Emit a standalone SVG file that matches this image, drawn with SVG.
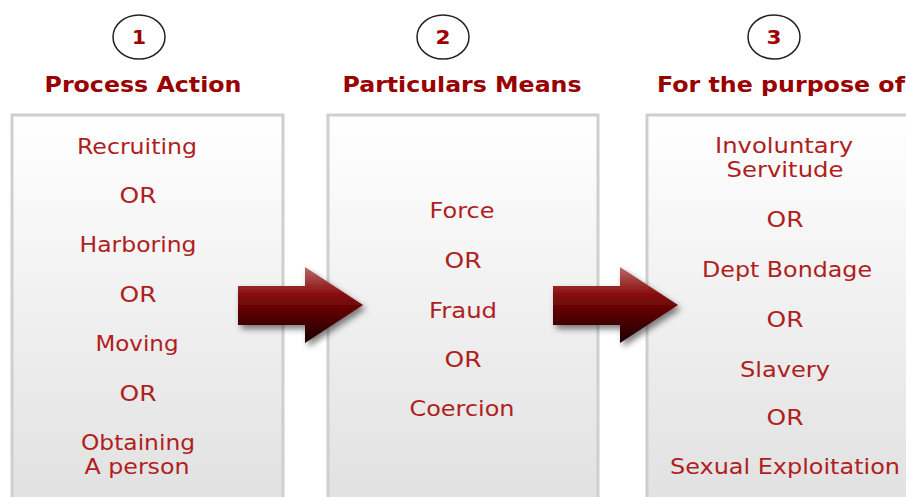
<svg xmlns="http://www.w3.org/2000/svg" width="906" height="497" viewBox="0 0 906 497">
<defs>
<linearGradient id="boxg" x1="0" y1="0" x2="0" y2="1">
<stop offset="0" stop-color="#ffffff"/>
<stop offset="1" stop-color="#e0e0e0"/>
</linearGradient>
<linearGradient id="arrg" x1="0" y1="0" x2="0" y2="1">
<stop offset="0" stop-color="#b86a6a"/>
<stop offset="0.35" stop-color="#8a1010"/>
<stop offset="0.6" stop-color="#5a0000"/>
<stop offset="1" stop-color="#1a0000"/>
</linearGradient>
<filter id="sh" x="-20%" y="-20%" width="150%" height="160%">
<feGaussianBlur in="SourceAlpha" stdDeviation="3"/>
<feOffset dx="3" dy="4" result="b"/>
<feComponentTransfer><feFuncA type="linear" slope="0.5"/></feComponentTransfer>
<feMerge><feMergeNode/><feMergeNode in="SourceGraphic"/></feMerge>
</filter>
</defs>
<style>
.box{fill:url(#boxg);stroke:#cfcfcf;stroke-width:3}
.num{fill:#fff;stroke:#222;stroke-width:1.5}
.nt{font-family:"DejaVu Sans",Verdana,sans-serif;font-weight:bold;font-size:20px;fill:#a00000;text-anchor:middle}
.hd{font-family:"DejaVu Sans",Verdana,sans-serif;font-weight:bold;font-size:20.5px;fill:#990000;text-anchor:middle}
.tx{font-family:"DejaVu Sans",Verdana,sans-serif;font-size:21px;fill:#b01e1e;text-anchor:middle}
.arr{fill:url(#arrg);filter:url(#sh)}
</style>
<rect width="906" height="497" fill="#ffffff"/>
<g id="col1">
<ellipse class="num" cx="139" cy="37" rx="26" ry="22"/>
<text class="nt" x="139" y="44" textLength="14" lengthAdjust="spacingAndGlyphs">1</text>
<text class="hd" x="143" y="92" textLength="197" lengthAdjust="spacingAndGlyphs">Process Action</text>
<rect class="box" x="12" y="115" width="271" height="400"/>
<text class="tx" x="137" y="154" textLength="120" lengthAdjust="spacingAndGlyphs">Recruiting</text>
<text class="tx" x="138" y="203" textLength="37" lengthAdjust="spacingAndGlyphs">OR</text>
<text class="tx" x="138" y="252" textLength="117" lengthAdjust="spacingAndGlyphs">Harboring</text>
<text class="tx" x="138" y="302" textLength="37" lengthAdjust="spacingAndGlyphs">OR</text>
<text class="tx" x="137" y="351" textLength="83" lengthAdjust="spacingAndGlyphs">Moving</text>
<text class="tx" x="138" y="401" textLength="37" lengthAdjust="spacingAndGlyphs">OR</text>
<text class="tx" x="138" y="450" textLength="114" lengthAdjust="spacingAndGlyphs">Obtaining</text>
<text class="tx" x="137" y="474" textLength="105" lengthAdjust="spacingAndGlyphs">A person</text>
</g>
<g id="col2">
<ellipse class="num" cx="443" cy="37" rx="26" ry="22"/>
<text class="nt" x="443" y="44" textLength="15" lengthAdjust="spacingAndGlyphs">2</text>
<text class="hd" x="462" y="92" textLength="239" lengthAdjust="spacingAndGlyphs">Particulars Means</text>
<rect class="box" x="328" y="115" width="270" height="400"/>
<text class="tx" x="462" y="218" textLength="65" lengthAdjust="spacingAndGlyphs">Force</text>
<text class="tx" x="463" y="268" textLength="37" lengthAdjust="spacingAndGlyphs">OR</text>
<text class="tx" x="463" y="318" textLength="68" lengthAdjust="spacingAndGlyphs">Fraud</text>
<text class="tx" x="463" y="367" textLength="37" lengthAdjust="spacingAndGlyphs">OR</text>
<text class="tx" x="462" y="416" textLength="105" lengthAdjust="spacingAndGlyphs">Coercion</text>
</g>
<g id="col3">
<ellipse class="num" cx="774" cy="37" rx="26" ry="22"/>
<text class="nt" x="774" y="44" textLength="15" lengthAdjust="spacingAndGlyphs">3</text>
<text class="hd" x="781" y="92" textLength="248" lengthAdjust="spacingAndGlyphs">For the purpose of</text>
<rect class="box" x="647" y="115" width="280" height="400"/>
<text class="tx" x="784" y="153" textLength="138" lengthAdjust="spacingAndGlyphs">Involuntary</text>
<text class="tx" x="785" y="177" textLength="117" lengthAdjust="spacingAndGlyphs">Servitude</text>
<text class="tx" x="785" y="227" textLength="37" lengthAdjust="spacingAndGlyphs">OR</text>
<text class="tx" x="787" y="277" textLength="170" lengthAdjust="spacingAndGlyphs">Dept Bondage</text>
<text class="tx" x="785" y="327" textLength="37" lengthAdjust="spacingAndGlyphs">OR</text>
<text class="tx" x="785" y="377" textLength="90" lengthAdjust="spacingAndGlyphs">Slavery</text>
<text class="tx" x="785" y="425" textLength="37" lengthAdjust="spacingAndGlyphs">OR</text>
<text class="tx" x="785" y="474" textLength="230" lengthAdjust="spacingAndGlyphs">Sexual Exploitation</text>
</g>
<g id="connectors">
<path class="arr" d="M238,286 L305,286 L305,267 L363,305 L305,343 L305,325 L238,325 Z"/>
<path class="arr" d="M553,286 L620,286 L620,267 L678,305 L620,343 L620,325 L553,325 Z"/>
</g>
</svg>
